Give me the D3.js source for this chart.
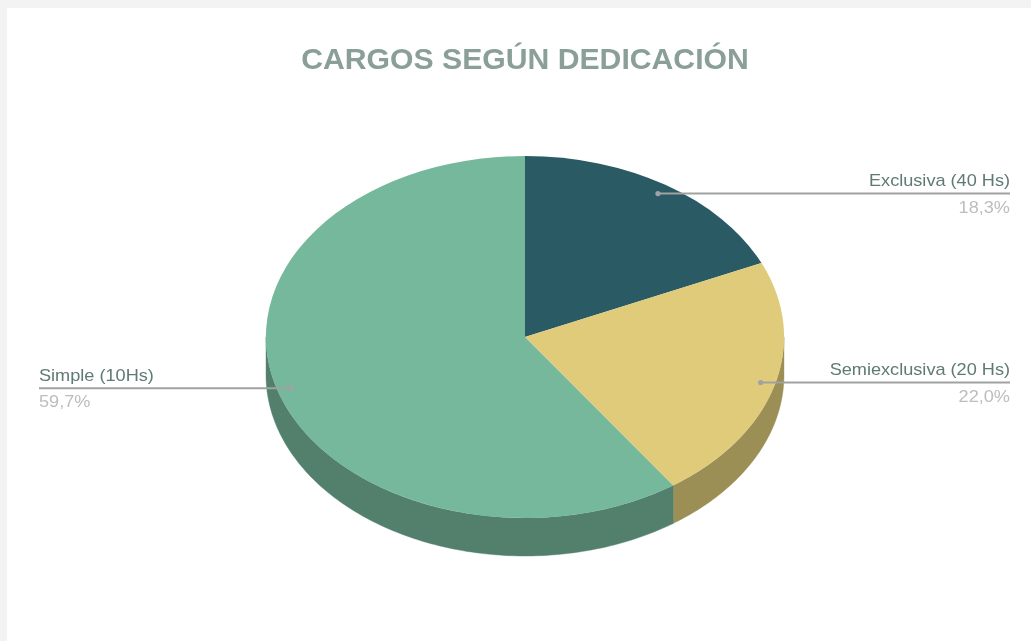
<!DOCTYPE html>
<html><head><meta charset="utf-8">
<script src="https://cdnjs.cloudflare.com/ajax/libs/d3/7.8.5/d3.min.js"></script>
<style>
html,body{margin:0;padding:0;background:#f3f3f3;width:1031px;height:641px;overflow:hidden}
svg{display:block}
text{font-family:"Liberation Sans",Arial,sans-serif}
</style></head><body>
<svg id="c" width="1031" height="641"></svg>
<script>
const title = "CARGOS SEGÚN DEDICACIÓN";
const categories = ["Exclusiva (40 Hs)", "Semiexclusiva (20 Hs)", "Simple (10Hs)"];
const values = [18.3, 22.0, 59.7];
const valueLabels = ["18,3%", "22,0%", "59,7%"];
const topColors = ["#2a5a64", "#dfcb7a", "#76b89b"];
const sideColors = ["#1d3f46", "#9c8f55", "#52806c"];

const cx = 525, cy = 337, rx = 259, ry = 181, depth = 38, leaderR = 0.944;
const stretch = 1.08;
const svg = d3.select("#c");
svg.append("rect").attr("x",7).attr("y",8).attr("width",1024).attr("height",633).attr("fill","#fff");
const defs = svg.append("defs");
defs.append("filter").attr("id","soft").attr("x","-5%").attr("y","-30%").attr("width","110%").attr("height","160%")
  .append("feGaussianBlur").attr("stdDeviation",0.6);

const pie = d3.pie().sort(null).value(d => d)(values);
const px = a => cx + rx * Math.sin(a), py = a => cy - ry * Math.cos(a);

// side wall (only the front half of the rim is visible)
const line = d3.line();
const sides = svg.append("g");
pie.forEach((s, i) => {
  const a0 = Math.max(s.startAngle, Math.PI / 2), a1 = Math.min(s.endAngle, 3 * Math.PI / 2);
  if (a1 <= a0) return;
  const as = d3.range(0, 121).map(k => a0 + (a1 - a0) * k / 120);
  const pts = as.map(a => [px(a), py(a)]).concat(as.slice().reverse().map(a => [px(a), py(a) + depth]));
  sides.append("path").attr("d", line(pts) + "Z").attr("fill", sideColors[i]).attr("stroke", sideColors[i]).attr("stroke-width", 0.4);
});

// top face
const arc = d3.arc().innerRadius(0).outerRadius(1);
svg.append("g").attr("transform", `translate(${cx},${cy}) scale(${rx},${ry})`)
  .selectAll("path").data(pie).join("path")
  .attr("d", arc).attr("fill", (d, i) => topColors[i]);

// leaders + labels
const g = svg.append("g").attr("filter", "url(#soft)");
pie.forEach((s, i) => {
  const m = (s.startAngle + s.endAngle) / 2;
  const x = cx + rx * leaderR * Math.sin(m), y = cy - ry * leaderR * Math.cos(m);
  const right = m < Math.PI;
  const edge = right ? 1010 : 39;
  g.append("line").attr("x1", x).attr("x2", edge).attr("y1", y).attr("y2", y).attr("stroke", "#a0a2a2").attr("stroke-width", 2);
  g.append("circle").attr("cx", x).attr("cy", y).attr("r", 2.6).attr("fill", "#a0a3a5");
  const anchor = right ? "end" : "start";
  const lab = (txt, dy, col) => g.append("text")
    .attr("transform", `translate(${edge},${y + dy}) scale(${stretch},1)`)
    .attr("text-anchor", anchor).attr("font-size", 16.8).attr("fill", col).text(txt);
  lab(categories[i], -7.5, "#5f7a74");
  lab(valueLabels[i], 19, "#bdbdbd");
});
svg.append("text").attr("transform", "translate(525,69) scale(1.02,1)").attr("text-anchor", "middle").attr("font-size", 29.6).attr("font-weight", "bold")
  .attr("fill", "#8a9f98").attr("filter", "url(#soft)").text(title);
</script>
</body></html>
